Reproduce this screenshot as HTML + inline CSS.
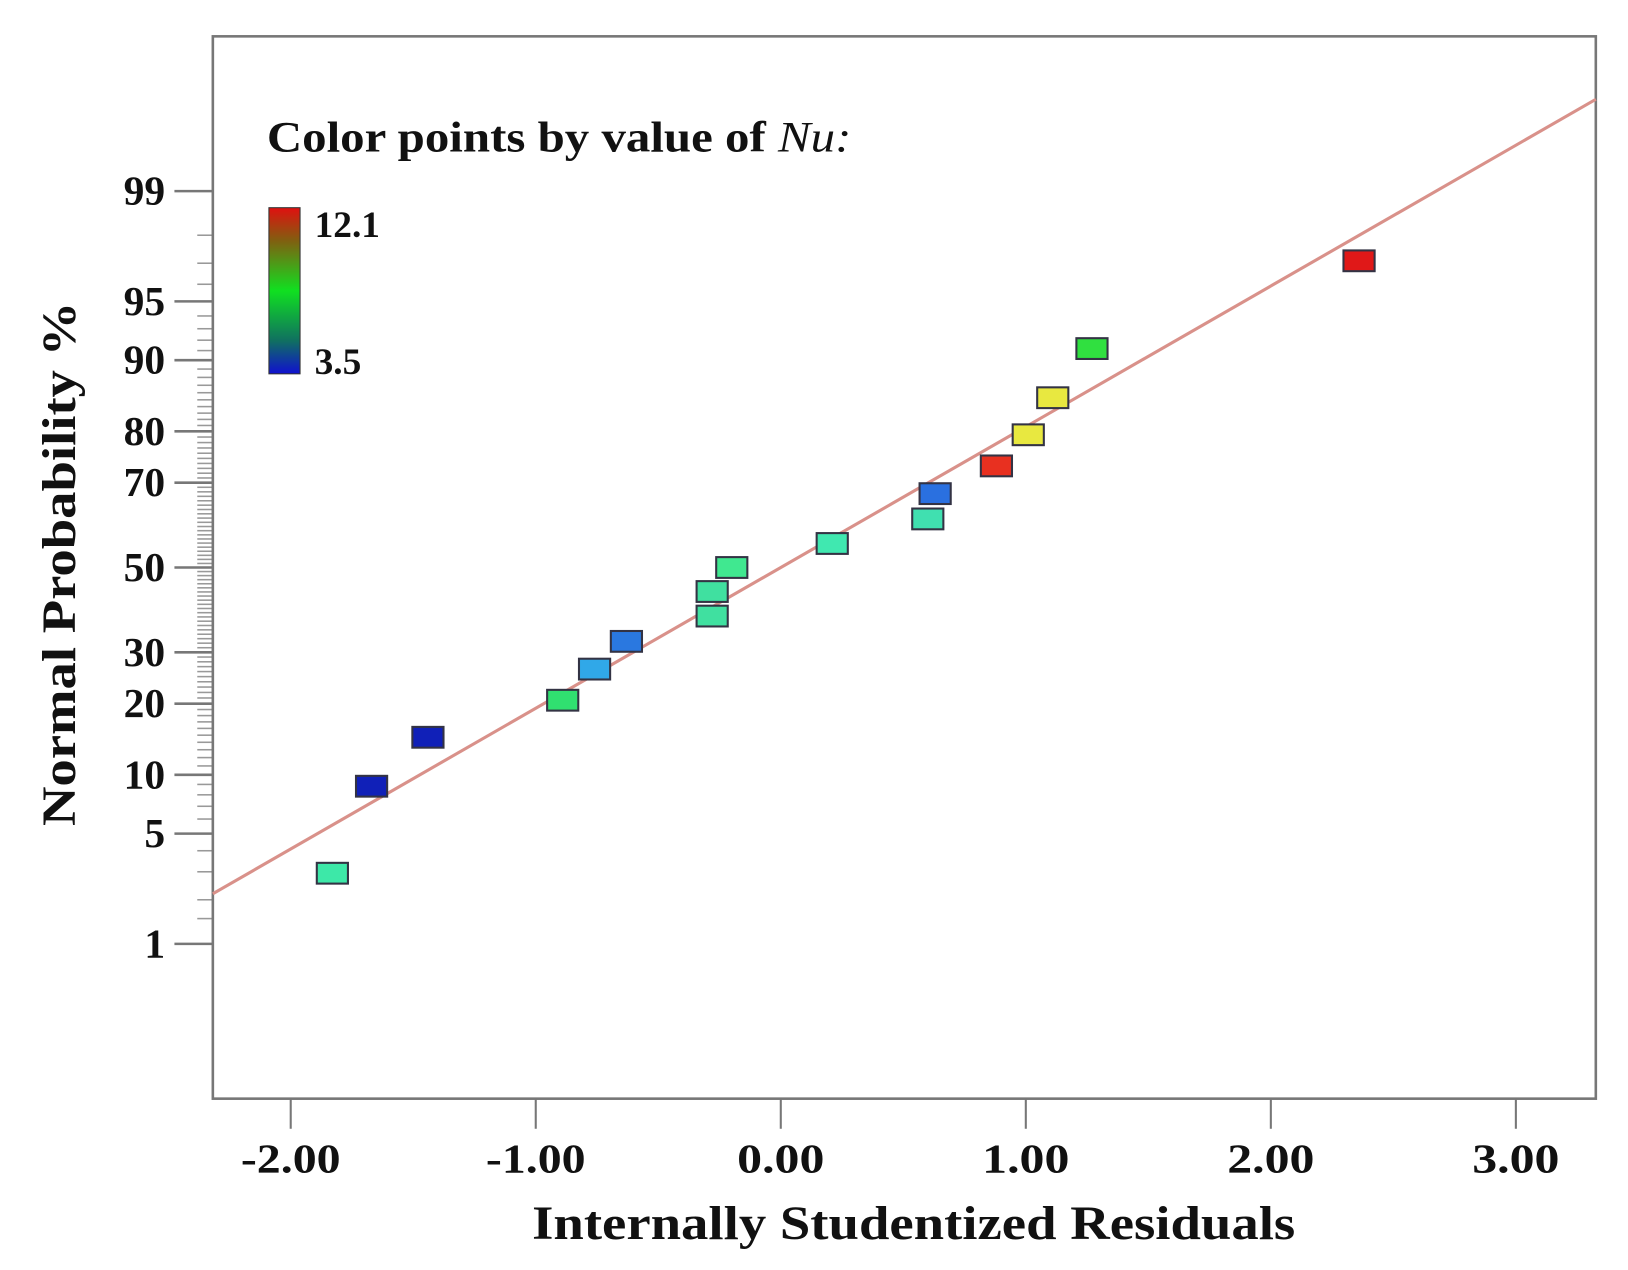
<!DOCTYPE html>
<html><head><meta charset="utf-8">
<style>
html,body{margin:0;padding:0;background:#fff;}
svg{display:block;}
text{font-family:"Liberation Serif",serif;font-weight:bold;fill:#111;}
</style></head>
<body>
<svg id="chart" width="1628" height="1270" viewBox="0 0 1568 1223" preserveAspectRatio="none" xmlns="http://www.w3.org/2000/svg">
<rect x="0" y="0" width="1568" height="1223" fill="#fff"/>
<g id="yticks"></g>
<g id="xticks"></g>
<rect x="205" y="35" width="1332" height="1023" fill="none" stroke="#777" stroke-width="2.5"/>
<line id="fitline" stroke="#d9918a" stroke-width="3"/>
<g id="points"></g>
<text x="257" y="146" font-size="42" textLength="563" lengthAdjust="spacingAndGlyphs">Color points by value of <tspan font-style="italic" font-weight="normal">Nu:</tspan></text>
<defs><linearGradient id="cb" x1="0" y1="0" x2="0" y2="1">
<stop offset="0" stop-color="#e01010"/><stop offset="0.2" stop-color="#806010"/><stop offset="0.5" stop-color="#10e020"/><stop offset="0.8" stop-color="#107060"/><stop offset="1" stop-color="#1010d0"/></linearGradient></defs>
<rect x="259" y="200" width="30" height="160" fill="url(#cb)" stroke="#333" stroke-width="1"/>
<text x="303" y="228" font-size="36">12.1</text>
<text x="303" y="360" font-size="36">3.5</text>
<text transform="translate(72,543) rotate(-90)" text-anchor="middle" font-size="46" textLength="505" lengthAdjust="spacingAndGlyphs">Normal Probability %</text>
<text x="880" y="1193" text-anchor="middle" font-size="46" textLength="735" lengthAdjust="spacingAndGlyphs">Internally Studentized Residuals</text>
</svg>
<script>
const xTicks = [-2, -1, 0, 1, 2, 3];
const xTickLabels = ["-2.00", "-1.00", "0.00", "1.00", "2.00", "3.00"];
const yTicks = [1, 5, 10, 20, 30, 50, 70, 80, 90, 95, 99];
const residuals = [-1.83, -1.67, -1.44, -0.89, -0.76, -0.63, -0.28, -0.28, -0.20, 0.21, 0.60, 0.63, 0.88, 1.01, 1.11, 1.27, 2.36];
const probabilities = [2.94, 8.82, 14.7, 20.6, 26.5, 32.4, 38.2, 44.1, 50.0, 55.9, 61.8, 67.6, 73.5, 79.4, 85.3, 91.2, 97.1];
const pointColors = ["#3de8a8", "#1020b8", "#1020b8", "#30e070", "#30a8e8", "#2a78e0", "#40e0a0", "#40e0a0", "#40e890", "#40e8b0", "#40e0b0", "#2a70e0", "#e83020", "#e8e840", "#e8e840", "#30e040", "#e01818"];
const fitSlope = 0.87;
const fitIntercept = 0.0;

const NS = "http://www.w3.org/2000/svg";
function probit(p){
  const a=[-39.6968302866538,220.946098424521,-275.928510446969,138.357751867269,-30.6647980661472,2.50662827745924];
  const b=[-54.4760987982241,161.585836858041,-155.698979859887,66.8013118877197,-13.2806815528857];
  const c=[-0.00778489400243029,-0.322396458041136,-2.40075827716184,-2.54973253934373,4.37466414146497,2.93816398269878];
  const d=[0.00778469570904146,0.32246712907004,2.445134137143,3.75440866190742];
  let q,r;
  if(p<0.02425){q=Math.sqrt(-2*Math.log(p));return (((((c[0]*q+c[1])*q+c[2])*q+c[3])*q+c[4])*q+c[5])/((((d[0]*q+d[1])*q+d[2])*q+d[3])*q+1);}
  if(p>1-0.02425){q=Math.sqrt(-2*Math.log(1-p));return -(((((c[0]*q+c[1])*q+c[2])*q+c[3])*q+c[4])*q+c[5])/((((d[0]*q+d[1])*q+d[2])*q+d[3])*q+1);}
  q=p-0.5;r=q*q;return (((((a[0]*r+a[1])*r+a[2])*r+a[3])*r+a[4])*r+a[5])*q/(((((b[0]*r+b[1])*r+b[2])*r+b[3])*r+b[4])*r+1);
}
const X0=752, XU=236, YC=546.5, ZU=155.8, LEFT=205, RIGHT=1537;
const xs = v => X0 + v*XU;
const yz = z => YC - z*ZU;
const yp = pct => yz(probit(pct/100));
function mk(tag, attrs, parent){const e=document.createElementNS(NS,tag);for(const k in attrs)e.setAttribute(k,attrs[k]);parent.appendChild(e);return e;}

const yg=document.getElementById('yticks');
const minor=[1.5,2,3,4,6,7,8,9,11,12,13,14,15,16,17,18,19,21,22,23,24,25,26,27,28,29,31,32,33,34,35,36,37,38,39,40,41,42,43,44,45,46,47,48,49,51,52,53,54,55,56,57,58,59,60,61,62,63,64,65,66,67,68,69,71,72,73,74,75,76,77,78,79,81,82,83,84,85,86,87,88,89,91,92,93,94,96,97,98];
minor.forEach(p=>{
  const l=mk('line',{x1:190,x2:205,y1:yp(p),y2:yp(p),stroke:'#999','stroke-width':1.5},yg);
  
  
});
yTicks.forEach(p=>{
  const y=yp(p);
  const l=mk('line',{x1:168,x2:205,y1:y,y2:y,stroke:'#777','stroke-width':2.5},yg);
  
  
  const t=mk('text',{x:159,y:y+13,'text-anchor':'end','font-size':40},yg);
  t.textContent=p;
  
  
});
const xg=document.getElementById('xticks');
xTicks.forEach((v,i)=>{
  const x=xs(v);
  const l=mk('line',{x1:x,x2:x,y1:1058,y2:1087,stroke:'#777','stroke-width':2},xg);
  
  
  const t=mk('text',{x:x,y:1129,'text-anchor':'middle','font-size':40,textLength:(v<0?96:84),lengthAdjust:'spacingAndGlyphs'},xg);
  t.textContent=xTickLabels[i];
  
  
});
const vL=(LEFT-X0)/XU, vR=(RIGHT-X0)/XU;
const fl=document.getElementById('fitline');
fl.setAttribute('x1',LEFT);fl.setAttribute('x2',RIGHT);
fl.setAttribute('y1',yz(fitIntercept+fitSlope*vL));fl.setAttribute('y2',yz(fitIntercept+fitSlope*vR));
const pg=document.getElementById('points');
residuals.forEach((v,i)=>{
  const cx=xs(v), cy=yp(probabilities[i]);
  const r=mk('rect',{x:cx-15,y:cy-10,width:30,height:20,fill:pointColors[i],stroke:'#334',"stroke-width":2},pg);
  
  
});
</script>
</body></html>
